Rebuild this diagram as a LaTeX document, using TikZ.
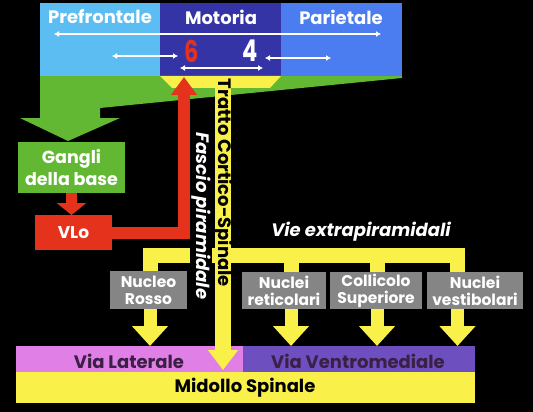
\documentclass[tikz,border=0pt]{standalone}
\usepackage{fontspec}
\setmainfont{Poppins}
\usetikzlibrary{arrows.meta,calc}
\definecolor{cPre}{HTML}{5CBDF2}
\definecolor{cMot}{HTML}{3434A6}
\definecolor{cPar}{HTML}{4C7DF0}
\definecolor{cGreen}{HTML}{62B833}
\definecolor{cYel}{HTML}{FAF04A}
\definecolor{cRed}{HTML}{E5321C}
\definecolor{cGray}{HTML}{858585}
\definecolor{cPink}{HTML}{E07FE6}
\definecolor{cPur}{HTML}{6E4FC0}
\definecolor{cDark}{HTML}{3A2045}
\begin{document}
\begin{tikzpicture}[x=1pt,y=-1pt,
  area/.style={inner sep=0pt,outer sep=0pt,anchor=north west},
  lbl/.style={inner sep=0pt,align=center,text=white,font=\bfseries\fontsize{18}{21}\selectfont},
  gbox/.style={area,fill=cGray,align=center,text=white,font=\bfseries\fontsize{15.5}{17}\selectfont},
  warr/.style={draw=white,line width=1.3pt,{Latex[length=5pt,width=6pt]}-{Latex[length=5pt,width=6pt]}},
  yarrow/.style={draw=cYel,line width=13pt,-{Triangle[width=35pt,length=20pt]}},
  rarrow/.style={draw=cRed,line width=12pt,line join=miter,-{Triangle[width=25pt,length=18pt]}},
  rsmall/.style={draw=cRed,line width=11pt,-{Triangle[width=29pt,length=12pt]}},
  ybar/.style={draw=cYel,line width=15pt,line join=miter}]
\fill[black] (0,0) rectangle (533,412);
\useasboundingbox (0,0) rectangle (533,412);
% green projection to basal ganglia
\fill[cGreen] (40,76) -- (402,76) -- (402,78) -- (100,108) -- (100,118) -- (120,118) -- (68,141) -- (20,118) -- (40,118) -- cycle;
% cortex areas
\node[area,fill=cPre,minimum width=120pt,minimum height=73pt] (pre) at (40,3) {};
\node[area,fill=cMot,minimum width=121pt,minimum height=73pt] (mot) at (160,3) {};
\node[area,fill=cPar,minimum width=121pt,minimum height=73pt] (par) at (281,3) {};
\node[lbl] (pret) at (100,17) {Prefrontale};
\node[lbl] (mott) at (221,17) {Motoria};
\node[lbl] (part) at (341,17) {Parietale};
\node[inner sep=0pt,text=cRed,font=\bfseries\fontsize{30}{30}\selectfont] (six) at (192,51) {\scalebox{0.75}[1]{6}};
\node[inner sep=0pt,text=white,font=\bfseries\fontsize{30}{30}\selectfont] (four) at (250,51) {\scalebox{0.75}[1]{4}};
\coordinate (a1) at (54,34); \coordinate (a2) at (381,34);
\coordinate (b1) at (112,56); \coordinate (b2) at (178,56);
\coordinate (c1) at (265,58); \coordinate (c2) at (331,58);
\coordinate (d1) at (180,68); \coordinate (d2) at (263,68);
\draw[warr] (a1) -- (a2);
\draw[warr] (b1) -- (b2);
\draw[warr] (c1) -- (c2);
\draw[warr] (d1) -- (d2);
% yellow trapezoid and corticospinal tract
\fill[cYel] (160,76) -- (281,76) -- (270,88) -- (172,88) -- cycle;
\coordinate (trap) at (223,86);
\coordinate (ttip) at (223,370);
% bottom boxes
\node[area,fill=cPink,minimum width=227pt,minimum height=26pt] (vl) at (16,346) {};
\node[area,fill=cPur,minimum width=232pt,minimum height=26pt] (vv) at (243,346) {};
\node[area,fill=cYel,minimum width=459pt,minimum height=31pt] (ms) at (16,372) {};
\node[lbl,text=cDark] (vlt) at (129,361) {Via Laterale};
\node[lbl,text=cDark] (vvt) at (358,361) {Via Ventromediale};
\node[lbl,text=black] (mst) at (245,388) {Midollo Spinale};
\draw[draw=cYel,line width=16pt,-{Triangle[width=29pt,length=20pt]}] (trap) -- (ttip);
% extrapyramidal bar
\coordinate (l1) at (150,255.5);
\coordinate (l2) at (291,255.5);
\coordinate (l3) at (377,255.5);
\coordinate (l4) at (457.5,255.5);
\draw[ybar] (150,272) -- (l1) -- (l4) -- (457.5,273);
\draw[ybar] (l2) -- (291,273);
\draw[ybar] (l3) -- (377,273);
% gray nuclei
\node[gbox,minimum width=77pt,minimum height=38pt] (nr) at (110,271) {Nucleo\\Rosso};
\node[gbox,minimum width=84pt,minimum height=37pt] (nret) at (242,272) {Nuclei\\reticolari};
\node[gbox,minimum width=92pt,minimum height=37pt] (ncol) at (330,272) {Collicolo\\Superiore};
\node[gbox,minimum width=96pt,minimum height=37pt] (nves) at (427,272) {Nuclei\\vestibolari};
\draw[yarrow] (nr.south -| l1) -- (l1 |- vl.north);
\draw[yarrow] (nret.south -| l2) -- (l2 |- vv.north);
\draw[yarrow] (ncol.south -| l3) -- (l3 |- vv.north);
\draw[yarrow] (nves.south -| l4) -- (l4 |- vv.north);
% basal ganglia loop
\node[area,fill=cGreen,minimum width=107pt,minimum height=51pt] (gan) at (18,142) {};
\node[lbl,font=\bfseries\fontsize{17.5}{22}\selectfont] (gant) at (71.5,168) {Gangli\\della base};
\node[area,fill=cRed,minimum width=77pt,minimum height=35pt] (vlo) at (35,215) {};
\node[lbl,font=\bfseries\fontsize{17}{20}\selectfont] (vlot) at (73.5,232.5) {VLo};
\draw[rsmall] (gan.south) -- (gan.south |- vlo.north);
\coordinate (rtip) at (184,77);
\draw[rarrow] (vlo.east) -| (rtip);
% tract labels
\node[lbl,text=black,rotate=-90] (tratto) at (223,183) {Tratto Cortico-Spinale};
\node[lbl,fill=black,inner sep=1pt,rotate=-90,font=\bfseries\itshape\fontsize{18}{21}\selectfont] (fascio) at (201,216) {Fascio piramidale};
\node[lbl,font=\bfseries\itshape\fontsize{18}{21}\selectfont] (vie) at (361,232) {Vie extrapiramidali};
\end{tikzpicture}
\end{document}
